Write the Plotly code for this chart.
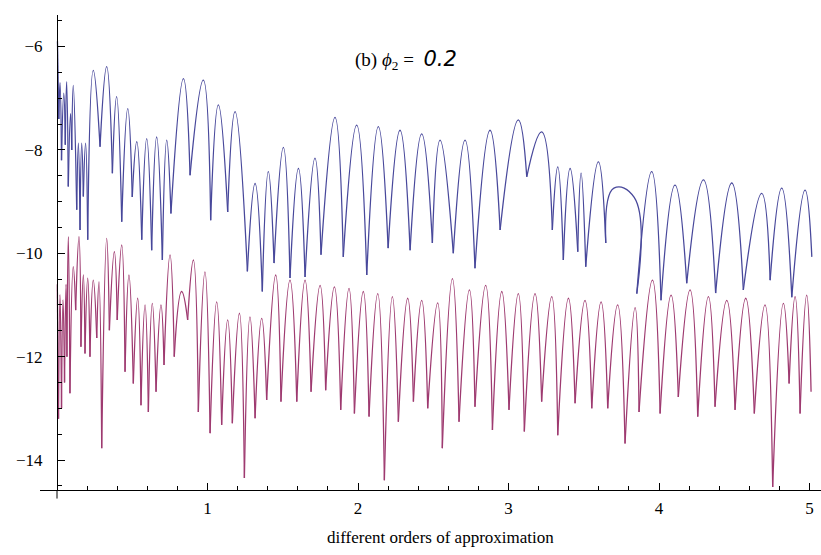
import plotly.graph_objects as go

# ---- data (x, log-error) : alternating peaks and cusps ----
blue_x = [0.003, 0.012, 0.020, 0.030, 0.045, 0.055, 0.064, 0.075, 0.090, 0.098,
          0.108, 0.131, 0.142, 0.153, 0.164, 0.175, 0.190, 0.204, 0.241, 0.286,
          0.330, 0.368, 0.396, 0.430, 0.470, 0.500, 0.530, 0.563, 0.596, 0.629,
          0.662, 0.700, 0.729, 0.757, 0.840, 0.884, 0.972, 1.021, 1.072, 1.134,
          1.183, 1.265, 1.316, 1.364, 1.404, 1.442, 1.504, 1.548, 1.604, 1.648,
          1.714, 1.754, 1.847, 1.902, 1.991, 2.058, 2.135, 2.200, 2.279, 2.346,
          2.423, 2.494, 2.545, 2.633, 2.711, 2.777, 2.877, 2.944, 3.065, 3.121,
          3.220, 3.291, 3.327, 3.364, 3.409, 3.460, 3.482, 3.513, 3.597, 3.646,
          3.700, 3.835, 3.852, 3.951, 4.013, 4.106, 4.184, 4.295, 4.376,
          4.483, 4.560, 4.682, 4.738, 4.815, 4.882, 4.970, 5.015]
blue_y = [-5.90, -7.40, -6.70, -8.20, -6.90, -7.90, -6.68, -8.71, -7.30, -8.00,
          -6.75, -9.16, -7.87, -9.55, -7.87, -8.90, -7.87, -9.74, -6.46, -7.94,
          -6.39, -8.45, -6.97, -9.39, -7.20, -8.91, -7.84, -9.74, -7.78, -9.94,
          -7.75, -10.13, -7.81, -9.23, -6.62, -8.49, -6.65, -9.36, -7.13, -9.20,
          -7.26, -10.35, -8.65, -10.74, -8.42, -10.19, -7.95, -10.48, -8.36, -10.46,
          -8.16, -10.03, -7.37, -10.07, -7.52, -10.42, -7.55, -9.90, -7.62, -9.94,
          -7.69, -9.80, -7.81, -10.00, -7.81, -10.29, -7.62, -9.55, -7.42, -8.52,
          -7.65, -9.55, -8.33, -10.13, -8.36, -9.97, -8.45, -10.26, -8.23, -9.80,
          -8.74, -8.92, -10.78, -8.42, -10.91, -8.68, -10.58, -8.58, -10.77,
          -8.64, -10.71, -8.84, -10.52, -8.74, -10.85, -8.78, -10.07]

magenta_x = [0.002, 0.010, 0.020, 0.030, 0.040, 0.050, 0.060, 0.066, 0.075, 0.086,
             0.108, 0.124, 0.146, 0.159, 0.175, 0.186, 0.204, 0.219, 0.241, 0.264,
             0.279, 0.297, 0.330, 0.348, 0.381, 0.400, 0.430, 0.452, 0.478, 0.507,
             0.536, 0.558, 0.585, 0.607, 0.633, 0.658, 0.691, 0.711, 0.751, 0.779,
             0.828, 0.868, 0.906, 0.939, 0.983, 1.017, 1.061, 1.094, 1.134, 1.165,
             1.212, 1.245, 1.282, 1.316, 1.360, 1.393, 1.453, 1.488, 1.548, 1.593,
             1.648, 1.688, 1.748, 1.785, 1.843, 1.885, 1.940, 1.976, 2.035, 2.073,
             2.131, 2.175, 2.228, 2.268, 2.330, 2.368, 2.423, 2.463, 2.529, 2.560,
             2.627, 2.671, 2.740, 2.777, 2.848, 2.893, 2.955, 3.003, 3.065, 3.105,
             3.176, 3.220, 3.287, 3.327, 3.398, 3.442, 3.508, 3.553, 3.615, 3.659,
             3.725, 3.774, 3.841, 3.867, 3.956, 4.007, 4.080, 4.128, 4.206, 4.257,
             4.328, 4.372, 4.450, 4.505, 4.576, 4.633, 4.704, 4.755, 4.826, 4.864,
             4.904, 4.937, 4.981, 5.010]
magenta_y = [-10.60, -13.20, -10.80, -13.00, -10.90, -12.50, -10.60, -12.00, -9.68, -12.71,
             -10.26, -11.10, -9.68, -11.81, -10.42, -11.94, -10.48, -12.00, -10.52, -11.64,
             -10.55, -13.77, -9.71, -11.49, -9.97, -11.29, -9.84, -12.29, -10.42, -12.52,
             -10.87, -12.94, -11.00, -13.07, -10.97, -12.68, -11.00, -12.16, -10.03, -12.00,
             -10.74, -11.29, -10.13, -13.07, -10.36, -13.48, -10.94, -13.32, -11.29, -13.29,
             -11.16, -14.35, -11.23, -13.19, -11.26, -12.84, -10.42, -12.87, -10.52, -12.87,
             -10.52, -12.68, -10.62, -12.65, -10.65, -13.03, -10.68, -13.10, -10.74, -13.16,
             -10.78, -14.39, -10.84, -13.26, -10.87, -12.87, -10.91, -13.00, -10.96, -13.77,
             -10.49, -13.26, -10.71, -12.97, -10.62, -13.42, -10.74, -13.03, -10.78, -13.45,
             -10.78, -12.87, -10.84, -13.52, -10.87, -12.90, -10.91, -13.00, -10.94, -13.00,
             -11.00, -13.68, -11.05, -13.07, -10.52, -13.10, -10.81, -12.78, -10.71, -13.16,
             -10.84, -12.97, -10.91, -13.03, -10.87, -13.10, -11.00, -14.52, -10.97, -12.52,
             -10.84, -13.10, -10.81, -12.68]

x_tick_vals = [1, 2, 3, 4, 5]
x_tick_text = ["1", "2", "3", "4", "5"]
y_tick_vals = [-14, -12, -10, -8, -6]
y_tick_text = ["\u221214", "\u221212", "\u221210", "\u22128", "\u22126"]


def arches(xs, ys):
    """Split the polyline at its cusps (local minima) so each arch is its own
    smoothed piece, with sharp cusps between arches."""
    cut = [0] + [i for i in range(1, len(ys) - 1)
                 if ys[i] < ys[i - 1] and ys[i] < ys[i + 1]] + [len(ys) - 1]
    ox, oy = [], []
    for a, b in zip(cut[:-1], cut[1:]):
        ox += xs[a:b + 1] + [None]
        oy += ys[a:b + 1] + [None]
    return ox, oy


bx, by = arches(blue_x, blue_y)
mx, my = arches(magenta_x, magenta_y)

fig = go.Figure()
fig.add_trace(go.Scatter(x=mx, y=my, mode="lines", connectgaps=False,
                         line=dict(color="rgb(158,58,112)", width=1.3,
                                   shape="spline", smoothing=1.3),
                         hoverinfo="skip", showlegend=False))
fig.add_trace(go.Scatter(x=bx, y=by, mode="lines", connectgaps=False,
                         line=dict(color="rgb(72,72,155)", width=1.3,
                                   shape="spline", smoothing=1.3),
                         hoverinfo="skip", showlegend=False))

serif = "Liberation Serif, Times New Roman, serif"

fig.update_layout(
    width=821, height=555,
    margin=dict(l=40, r=0, t=15, b=65),
    paper_bgcolor="white", plot_bgcolor="white",
    font=dict(family=serif, size=17, color="black"),
    showlegend=False,
    xaxis=dict(range=[-0.113, 5.076], showgrid=False, zeroline=False,
               showline=True, linecolor="black", linewidth=1,
               ticks="inside", ticklen=7, tickwidth=1, tickcolor="black",
               tickmode="array", tickvals=x_tick_vals, ticktext=x_tick_text,
               ticklabelstandoff=3,
               tickfont=dict(family=serif, size=17, color="black"),
               minor=dict(ticks="inside", ticklen=4, tickcolor="black",
                          tick0=0, dtick=0.2, showgrid=False)),
    yaxis=dict(range=[-14.58, -5.39], showgrid=False, zeroline=False,
               anchor="free", position=17 / 781,
               showline=True, linecolor="black", linewidth=1,
               ticks="inside", ticklen=7, tickwidth=1, tickcolor="black",
               tickmode="array", tickvals=y_tick_vals, ticktext=y_tick_text,
               ticklabelstandoff=11,
               tickfont=dict(family=serif, size=17, color="black"),
               minor=dict(ticks="inside", ticklen=4, tickcolor="black",
                          tick0=-14, dtick=0.5, showgrid=False)),
    annotations=[
        dict(text="different orders of approximation", xref="paper", yref="paper",
             x=(440 - 40) / 781, y=(490 - 537) / 475, showarrow=False,
             xanchor="center", yanchor="middle",
             font=dict(family=serif, size=17, color="black")),
        dict(text="(b) <i>\u03d5</i><sub>2</sub> = \u00a0"
                  "<span style='font-family:DejaVu Sans;font-size:21px'><i>0.2</i></span>",
             xref="paper", yref="paper",
             x=(353 - 40) / 781, y=(490 - 60) / 475, showarrow=False,
             xanchor="left", yanchor="middle",
             font=dict(family=serif, size=19, color="black")),
    ],
    shapes=[dict(type="line", xref="x", yref="paper", x0=0, x1=0,
                 y0=-0.018, y1=0, line=dict(color="black", width=1))],
)

fig.write_html("out.html")
